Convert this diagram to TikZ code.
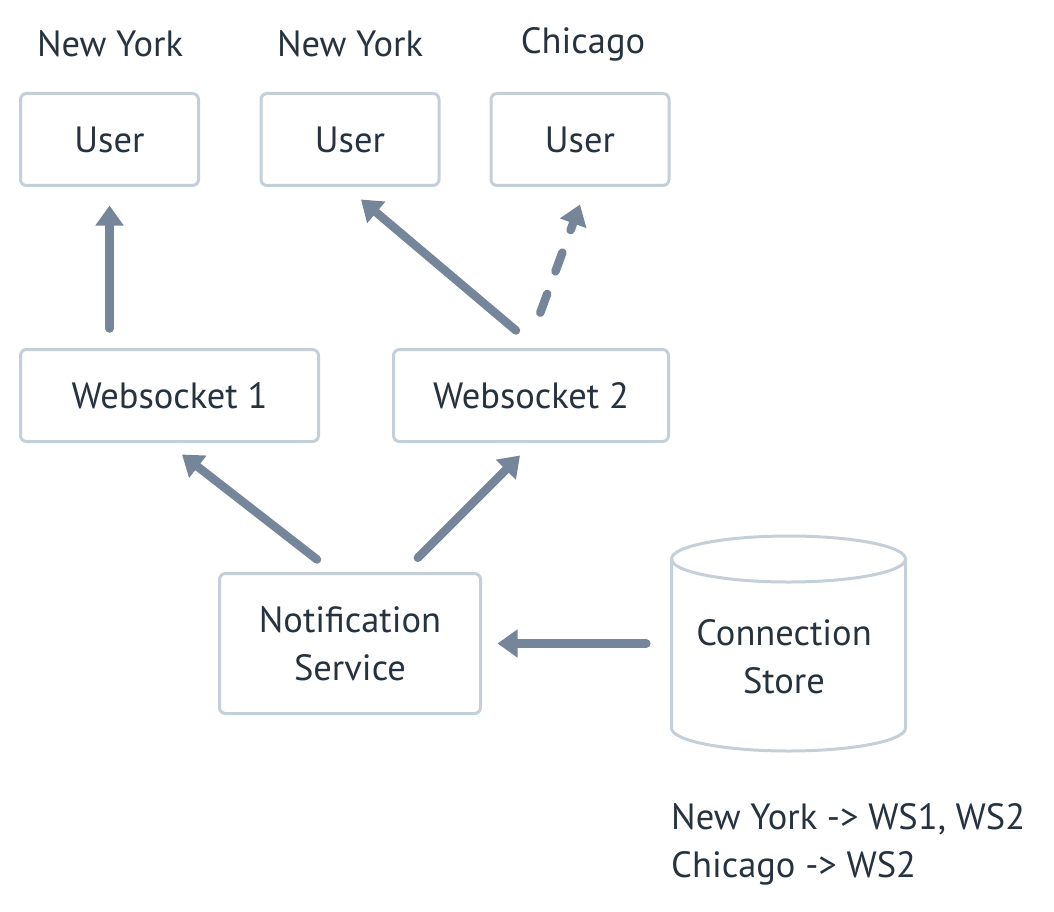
\documentclass[tikz,border=0pt]{standalone}
\usepackage{fontspec}
\setmainfont{PT Sans}
\usetikzlibrary{arrows.meta}
\definecolor{boxc}{HTML}{C6CFD8}
\definecolor{arrc}{HTML}{76869A}
\definecolor{txtc}{HTML}{27323F}
\tikzset{
  box/.style={draw=boxc, line width=3pt, rounded corners=6pt, fill=white, text=txtc,
    font=\fontsize{36.5}{48}\selectfont, align=center, inner sep=0pt, minimum height=92pt},
  lbl/.style={text=txtc, font=\fontsize{36.5}{48}\selectfont, inner sep=0pt},
  arr/.style={draw=arrc, line width=8.5pt, line cap=round, -{Triangle[length=20pt,width=27pt]}},
}
\begin{document}
\begin{tikzpicture}[x=1pt,y=-1pt]
\useasboundingbox (0,0) rectangle (1054,912);
% labels
\node[lbl] (l1) at (110,44) {New York};
\node[lbl] (l2) at (350,44) {New York};
\node[lbl] (l3) at (583,44) {Chicago};
% boxes
\node[box, minimum width=178pt] (u1) at (109.5,139.5) {User};
\node[box, minimum width=178pt] (u2) at (350,139.5) {User};
\node[box, minimum width=178pt] (u3) at (580,139.5) {User};
\node[box, minimum width=298pt] (ws1) at (169.5,395.5) {Websocket 1};
\node[box, minimum width=275pt] (ws2) at (531,395.5) {Websocket 2};
\node[box, minimum width=261pt, minimum height=140pt] (ns) at (350,643.5) {Notification\\Service};
% cylinder
\draw[boxc, line width=3pt] (671.5,559) -- (671.5,728)
  arc[start angle=180, end angle=0, x radius=117, y radius=23] -- (905.5,559);
\draw[boxc, line width=3pt] (788.5,559) ellipse [x radius=117, y radius=23];
\node[lbl, align=center, minimum width=237pt] (cs) at (784,657) {Connection\\Store};
% mapping text
\node[lbl, align=left, anchor=west] (map) at (671,844) {New York -> WS1, WS2\\Chicago -> WS2};
% arrows
\draw[arr] ([yshift=19.5pt]ws1.north -| u1.south) -- ([yshift=-18.5pt]u1.south);
\draw[arr] ([xshift=-15pt,yshift=17.5pt]ws2.north) -- ([xshift=11pt,yshift=-12.5pt]u2.south);
\draw[arr, dash pattern=on 20pt off 24pt] ([xshift=9.3pt,yshift=35.3pt]ws2.north) -- ([yshift=-17.5pt]u3.south);
\draw[arr] ([xshift=-33pt,yshift=12.5pt]ns.north) -- ([xshift=12.5pt,yshift=-11.5pt]ws1.south);
\draw[arr] ([xshift=67.8pt,yshift=14.2pt]ns.north) -- ([xshift=-11pt,yshift=-12.5pt]ws2.south);
\draw[arr, shorten <=19pt, shorten >=15.5pt] (cs.west |- ns.east) -- (ns.east);
\end{tikzpicture}
\end{document}
